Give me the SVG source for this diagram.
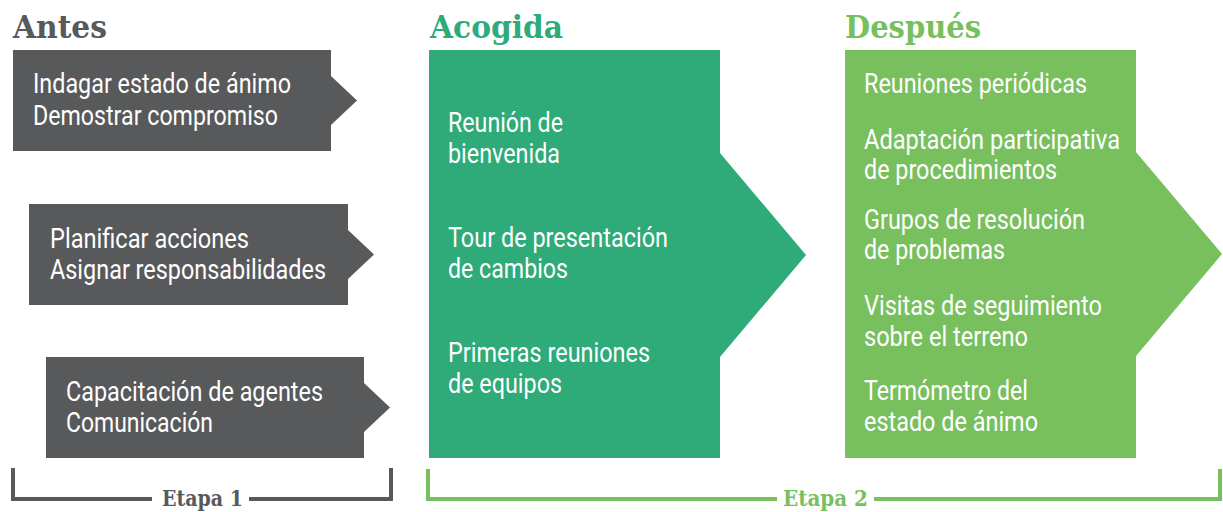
<svg xmlns="http://www.w3.org/2000/svg" width="1223" height="512" viewBox="0 0 1223 512">
<style>
.gray{fill:#58595b}
.teal{fill:#2eab79}
.lime{fill:#78bf5d}
.body{font-family:Roboto,"Liberation Sans",sans-serif;font-size:27px;fill:#ffffff}
.head{font-family:"DejaVu Serif","Liberation Serif",serif;font-size:32px;font-weight:bold}
.etapa{font-family:"DejaVu Serif","Liberation Serif",serif;font-size:23px;font-weight:bold}
.br{fill:none;stroke-width:4}
</style>
<rect width="1223" height="512" fill="#ffffff"/>
<g id="headings">
<text class="head gray" x="13" y="38" textLength="94" lengthAdjust="spacingAndGlyphs">Antes</text>
<text class="head teal" x="430" y="38" textLength="133" lengthAdjust="spacingAndGlyphs">Acogida</text>
<text class="head lime" x="845" y="38" textLength="136" lengthAdjust="spacingAndGlyphs">Después</text>
</g>
<g id="antes1">
<polygon class="gray" points="13,50 331,50 331,76 357,100.5 331,125 331,151 13,151"/>
<text class="body" x="33" y="93" textLength="258" lengthAdjust="spacingAndGlyphs">Indagar estado de ánimo</text>
<text class="body" x="33" y="125" textLength="245" lengthAdjust="spacingAndGlyphs">Demostrar compromiso</text>
</g>
<g id="antes2">
<polygon class="gray" points="29,204 348,204 348,230 374,254.5 348,279 348,305 29,305"/>
<text class="body" x="50" y="248" textLength="199" lengthAdjust="spacingAndGlyphs">Planificar acciones</text>
<text class="body" x="50" y="279" textLength="276" lengthAdjust="spacingAndGlyphs">Asignar responsabilidades</text>
</g>
<g id="antes3">
<polygon class="gray" points="46,357 364,357 364,383 390,407.5 364,432 364,458 46,458"/>
<text class="body" x="66" y="401" textLength="257" lengthAdjust="spacingAndGlyphs">Capacitación de agentes</text>
<text class="body" x="66" y="432" textLength="147" lengthAdjust="spacingAndGlyphs">Comunicación</text>
</g>
<g id="acogida">
<polygon class="teal" points="429,50 720,50 720,153 806,255 720,357 720,458 429,458"/>
<text class="body" x="448" y="132" textLength="115" lengthAdjust="spacingAndGlyphs">Reunión de</text>
<text class="body" x="448" y="163" textLength="112" lengthAdjust="spacingAndGlyphs">bienvenida</text>
<text class="body" x="448" y="247" textLength="220" lengthAdjust="spacingAndGlyphs">Tour de presentación</text>
<text class="body" x="448" y="278" textLength="120" lengthAdjust="spacingAndGlyphs">de cambios</text>
<text class="body" x="448" y="362" textLength="202" lengthAdjust="spacingAndGlyphs">Primeras reuniones</text>
<text class="body" x="448" y="393" textLength="114" lengthAdjust="spacingAndGlyphs">de equipos</text>
</g>
<g id="despues">
<polygon class="lime" points="845,50 1136,50 1136,152 1222,254 1136,356 1136,458 845,458"/>
<text class="body" x="864" y="93" textLength="223" lengthAdjust="spacingAndGlyphs">Reuniones periódicas</text>
<text class="body" x="864" y="149" textLength="256" lengthAdjust="spacingAndGlyphs">Adaptación participativa</text>
<text class="body" x="864" y="179" textLength="193" lengthAdjust="spacingAndGlyphs">de procedimientos</text>
<text class="body" x="864" y="229" textLength="221" lengthAdjust="spacingAndGlyphs">Grupos de resolución</text>
<text class="body" x="864" y="259" textLength="141" lengthAdjust="spacingAndGlyphs">de problemas</text>
<text class="body" x="864" y="315" textLength="238" lengthAdjust="spacingAndGlyphs">Visitas de seguimiento</text>
<text class="body" x="864" y="346" textLength="164" lengthAdjust="spacingAndGlyphs">sobre el terreno</text>
<text class="body" x="864" y="400" textLength="164" lengthAdjust="spacingAndGlyphs">Termómetro del</text>
<text class="body" x="864" y="431" textLength="174" lengthAdjust="spacingAndGlyphs">estado de ánimo</text>
</g>
<g id="connectors">
<path class="br" stroke="#58595b" d="M13,468 V499 H152 M249,499 H391 V468"/>
<path class="br" stroke="#78bf5d" d="M428,469 V499 H777 M874,499 H1220 V469"/>
</g>
<g id="labels">
<text class="etapa gray" x="162" y="506" textLength="81" lengthAdjust="spacingAndGlyphs">Etapa 1</text>
<text class="etapa lime" x="783" y="506" textLength="85" lengthAdjust="spacingAndGlyphs">Etapa 2</text>
</g>
</svg>
